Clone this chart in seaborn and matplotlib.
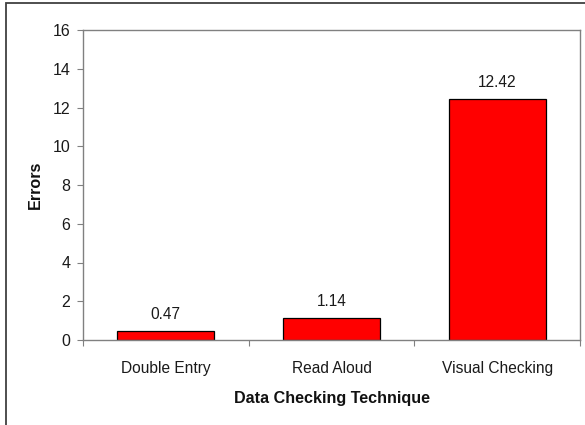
import matplotlib
matplotlib.use("Agg")
import matplotlib.pyplot as plt
import seaborn as sns
import pandas as pd
from matplotlib.patches import Rectangle

categories = ["Double Entry", "Read Aloud", "Visual Checking"]
errors = [0.47, 1.14, 12.42]
yticks = [0, 2, 4, 6, 8, 10, 12, 14, 16]

sns.set_theme(style="white")
plt.rcParams['font.family'] = ['Liberation Sans', 'DejaVu Sans']

df = pd.DataFrame({"technique": categories, "errors": errors})

fig = plt.figure(figsize=(5.85, 4.25), dpi=100)
ax = fig.add_axes([83/585, 85/425, (580-83)/585, (340-30)/425])

sns.barplot(data=df, x="technique", y="errors", color="#ff0000", saturation=1,
            width=0.585, edgecolor="black", linewidth=0.9, ax=ax)

ax.set_ylim(0, 16)
ax.set_xlim(-0.5, 2.5)
ax.set_yticks(yticks)
ax.set_yticklabels([str(t) for t in yticks], fontsize=11.5, color="#1a1a1a")
ax.tick_params(axis="y", direction="out", length=4.5, width=0.8, color="#808080",
               left=True, pad=4.5)
ax.set_xticks(range(len(categories)))
ax.set_xticklabels(categories, fontsize=11.2, color="#1a1a1a")
ax.tick_params(axis="x", which="major", length=0, pad=15)
ax.set_xticks([-0.5, 0.5, 1.5, 2.5], minor=True)
ax.tick_params(axis="x", which="minor", direction="out", length=4.5, width=0.8,
               color="#808080", bottom=True)

for s in ax.spines.values():
    s.set_color("#808080")
    s.set_linewidth(1.0)

for i, v in enumerate(errors):
    ax.annotate(f"{v:.2f}", (i, v), xytext=(0, 6.5), textcoords="offset points",
                ha="center", va="bottom", fontsize=11.2, color="#1a1a1a")

ax.set_xlabel("Data Checking Technique", fontsize=11.6, fontweight="bold",
              labelpad=11, color="#111111")
ax.set_ylabel("Errors", fontsize=11.6, fontweight="bold", labelpad=7,
              color="#111111")

fig.patches.append(Rectangle((6/585, -0.1), 1.2, (425-3)/425 + 0.1,
                             transform=fig.transFigure, fill=False,
                             edgecolor="#404040", linewidth=1.3))

fig.savefig("out.png", dpi=100)
